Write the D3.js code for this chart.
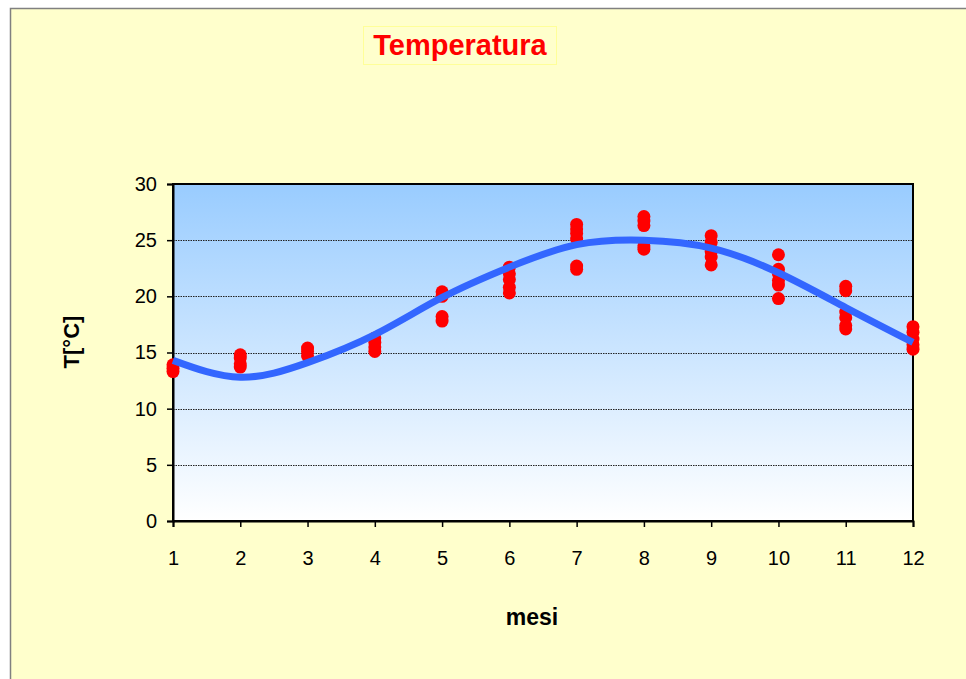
<!DOCTYPE html>
<html>
<head>
<meta charset="utf-8">
<script src="https://cdn.jsdelivr.net/npm/d3@7"></script>
<style>
  html, body { margin: 0; padding: 0; background: #ffffff; }
  svg { display: block; font-family: Arial, "Liberation Sans", sans-serif; }
</style>
</head>
<body>
<svg id="chart" width="966" height="679"></svg>
<script>
// Monthly temperature readings (several per month)
const months = [1, 2, 3, 4, 5, 6, 7, 8, 9, 10, 11, 12];
const readings = [
  [13.3, 13.6, 13.9],
  [13.7, 14.0, 14.5, 14.8],
  [14.7, 15.1, 15.4],
  [15.1, 15.5, 15.9, 16.3],
  [17.8, 18.2, 20.0, 20.4],
  [20.3, 20.8, 21.5, 22.0, 22.6],
  [22.4, 22.7, 25.1, 25.6, 26.0, 26.4],
  [24.2, 24.5, 26.3, 26.7, 27.1],
  [22.8, 23.5, 24.0, 24.8, 25.4],
  [19.8, 21.0, 21.4, 22.0, 22.4, 23.7],
  [17.1, 17.4, 18.1, 18.6, 20.5, 20.9],
  [15.3, 15.7, 16.2, 16.8, 17.3]
];
// Trend line values at each month
const trend = [14.3, 12.8, 14.1, 16.6, 19.9, 22.6, 24.6, 25.0, 24.3, 22.1, 19.0, 15.9];
const yTicks = [0, 5, 10, 15, 20, 25, 30];
const gridTicks = [5, 10, 15, 20, 25];

const svg = d3.select("#chart");

// Chart background panel
svg.append("rect")
  .attr("x", 10.5).attr("y", 8.5)
  .attr("width", 970).attr("height", 690)
  .attr("fill", "#FFFFCC")
  .attr("stroke", "#808080").attr("stroke-width", 1.5);

const plot = { left: 173, right: 913, top: 184, bottom: 521 };

const x = d3.scaleLinear().domain([1, 12]).range([plot.left, plot.right]);
const y = d3.scaleLinear().domain([0, 30]).range([plot.bottom, plot.top]);

// Plot area gradient
const defs = svg.append("defs");
const grad = defs.append("linearGradient")
  .attr("id", "plotFill").attr("x1", 0).attr("y1", 0).attr("x2", 0).attr("y2", 1);
grad.append("stop").attr("offset", "0%").attr("stop-color", "#99CCFF");
grad.append("stop").attr("offset", "100%").attr("stop-color", "#FFFFFF");

svg.append("rect")
  .attr("x", plot.left).attr("y", plot.top)
  .attr("width", plot.right - plot.left).attr("height", plot.bottom - plot.top)
  .attr("fill", "url(#plotFill)");

// Horizontal dotted gridlines
svg.append("g").selectAll("line").data(gridTicks).join("line")
  .attr("x1", plot.left).attr("x2", plot.right)
  .attr("y1", d => Math.round(y(d)) + 0.5).attr("y2", d => Math.round(y(d)) + 0.5)
  .attr("stroke", "#222").attr("stroke-width", 1)
  .attr("stroke-dasharray", "1.5,1");

// Plot border
svg.append("rect")
  .attr("x", plot.left).attr("y", plot.top)
  .attr("width", plot.right - plot.left).attr("height", plot.bottom - plot.top)
  .attr("fill", "none").attr("stroke", "#000").attr("stroke-width", 2);

// Axes
const yAxis = d3.axisLeft(y).tickValues(yTicks).tickSize(6).tickPadding(10);
const gy = svg.append("g").attr("transform", `translate(${plot.left},0)`).call(yAxis);
const xAxis = d3.axisBottom(x).tickValues(months).tickSize(6).tickPadding(24);
const gx = svg.append("g").attr("transform", `translate(0,${plot.bottom})`).call(xAxis);
[gy, gx].forEach(g => {
  g.select(".domain").attr("stroke", "#000").attr("stroke-width", 2);
  g.selectAll(".tick line").attr("stroke", "#000").attr("stroke-width", 1.5);
  g.selectAll(".tick text").attr("fill", "#000")
    .style("font-family", "Arial, 'Liberation Sans', sans-serif").style("font-size", "20px");
});

// Scatter points
const points = [];
readings.forEach((vals, i) => vals.forEach(v => points.push({ m: months[i], v })));
svg.append("g").selectAll("circle").data(points).join("circle")
  .attr("cx", d => x(d.m)).attr("cy", d => y(d.v)).attr("r", 6.5)
  .attr("fill", "#FF0000");

// Trend line
const line = d3.line().x((d, i) => x(months[i])).y(d => y(d)).curve(d3.curveNatural);
svg.append("path")
  .datum(trend)
  .attr("d", line)
  .attr("fill", "none")
  .attr("stroke", "#3366FF")
  .attr("stroke-width", 7);

// Title box and title
svg.append("rect")
  .attr("x", 363.5).attr("y", 26.5).attr("width", 193).attr("height", 38)
  .attr("fill", "#FFFFCC").attr("stroke", "#FFFF99").attr("stroke-width", 1);
svg.append("text")
  .attr("x", 460).attr("y", 55)
  .attr("text-anchor", "middle")
  .attr("fill", "#FF0000")
  .style("font-weight", "bold").style("font-size", "29px")
  .text("Temperatura");

// Axis titles
svg.append("text")
  .attr("transform", "translate(79,342) rotate(-90)")
  .attr("text-anchor", "middle")
  .style("font-weight", "bold").style("font-size", "22px")
  .text("T[°C]");
svg.append("text")
  .attr("x", 532).attr("y", 625)
  .attr("text-anchor", "middle")
  .style("font-weight", "bold").style("font-size", "23px")
  .text("mesi");
</script>
</body>
</html>
